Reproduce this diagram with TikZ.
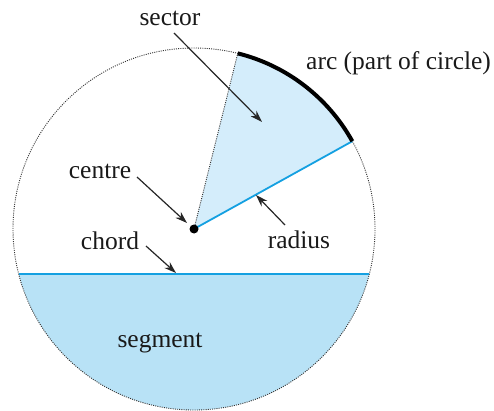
\documentclass[tikz,border=0pt]{standalone}
\usepackage{fontspec}
\setmainfont{Liberation Serif}
\usetikzlibrary{arrows.meta,calc}
\definecolor{sectfill}{RGB}{212,237,251}
\definecolor{segfill}{RGB}{184,226,246}
\definecolor{cyanline}{RGB}{20,160,225}
\tikzset{
  lbl/.style={font=\fontsize{25.5}{27}\selectfont, inner sep=0pt, text=black!90},
  arr/.style={-{Stealth[length=12pt,width=8pt]}, line width=1.2pt, black!85},
  dotc/.style={dash pattern=on 1pt off 1.2pt, line width=0.9pt, black!80},
}
\begin{document}
\begin{tikzpicture}[x=1pt,y=1pt]
\useasboundingbox (0,0) rectangle (494,410);
\coordinate (C) at (194,181);
% segment
\fill[segfill] (C) ++(194.4:181) arc[start angle=194.4, end angle=345.6, radius=181] -- cycle;
% sector
\fill[sectfill] (C) -- ++(29:181) arc[start angle=29, end angle=76, radius=181] -- cycle;
% circle
\draw[dotc] (C) circle[radius=181];
% dotted radius
\coordinate (P76) at ($(C)+(76:181)$);
\draw[dotc] (C) -- (P76);
% blue radius
\coordinate (P29) at ($(C)+(29:181)$);
\draw[cyanline, line width=1.8pt] (C) -- (P29);
% chord
\coordinate (L) at ($(C)+(194.4:181)$);
\coordinate (R) at ($(C)+(-14.4:181)$);
\draw[cyanline, line width=1.8pt] (L) -- (R);
% arc
\draw[black, line width=4pt] (P29) arc[start angle=29, end angle=76, radius=181];
% centre dot
\fill[black] (C) circle[radius=4.5];
% labels
\node[lbl] (sector) at (170,392) {sector};
\node[lbl, anchor=west] (arc) at (306,347) {arc (part of circle)};
\node[lbl] (centre) at (100,239) {centre};
\node[lbl] (chord) at (110,169) {chord};
\node[lbl] (radius) at (299,170) {radius};
\node[lbl] (segment) at (160,67) {segment};
% arrows
\coordinate (s1) at (174,377); \coordinate (s2) at (262,288);
\coordinate (c1) at (137,233); \coordinate (c2) at (187,187);
\coordinate (h1) at (146,164); \coordinate (h2) at (176,137);
\coordinate (r1) at (285,185); \coordinate (r2) at (256,215);
\draw[arr] (s1) -- (s2);
\draw[arr] (c1) -- (c2);
\draw[arr] (h1) -- (h2);
\draw[arr] (r1) -- (r2);
\end{tikzpicture}
\end{document}
